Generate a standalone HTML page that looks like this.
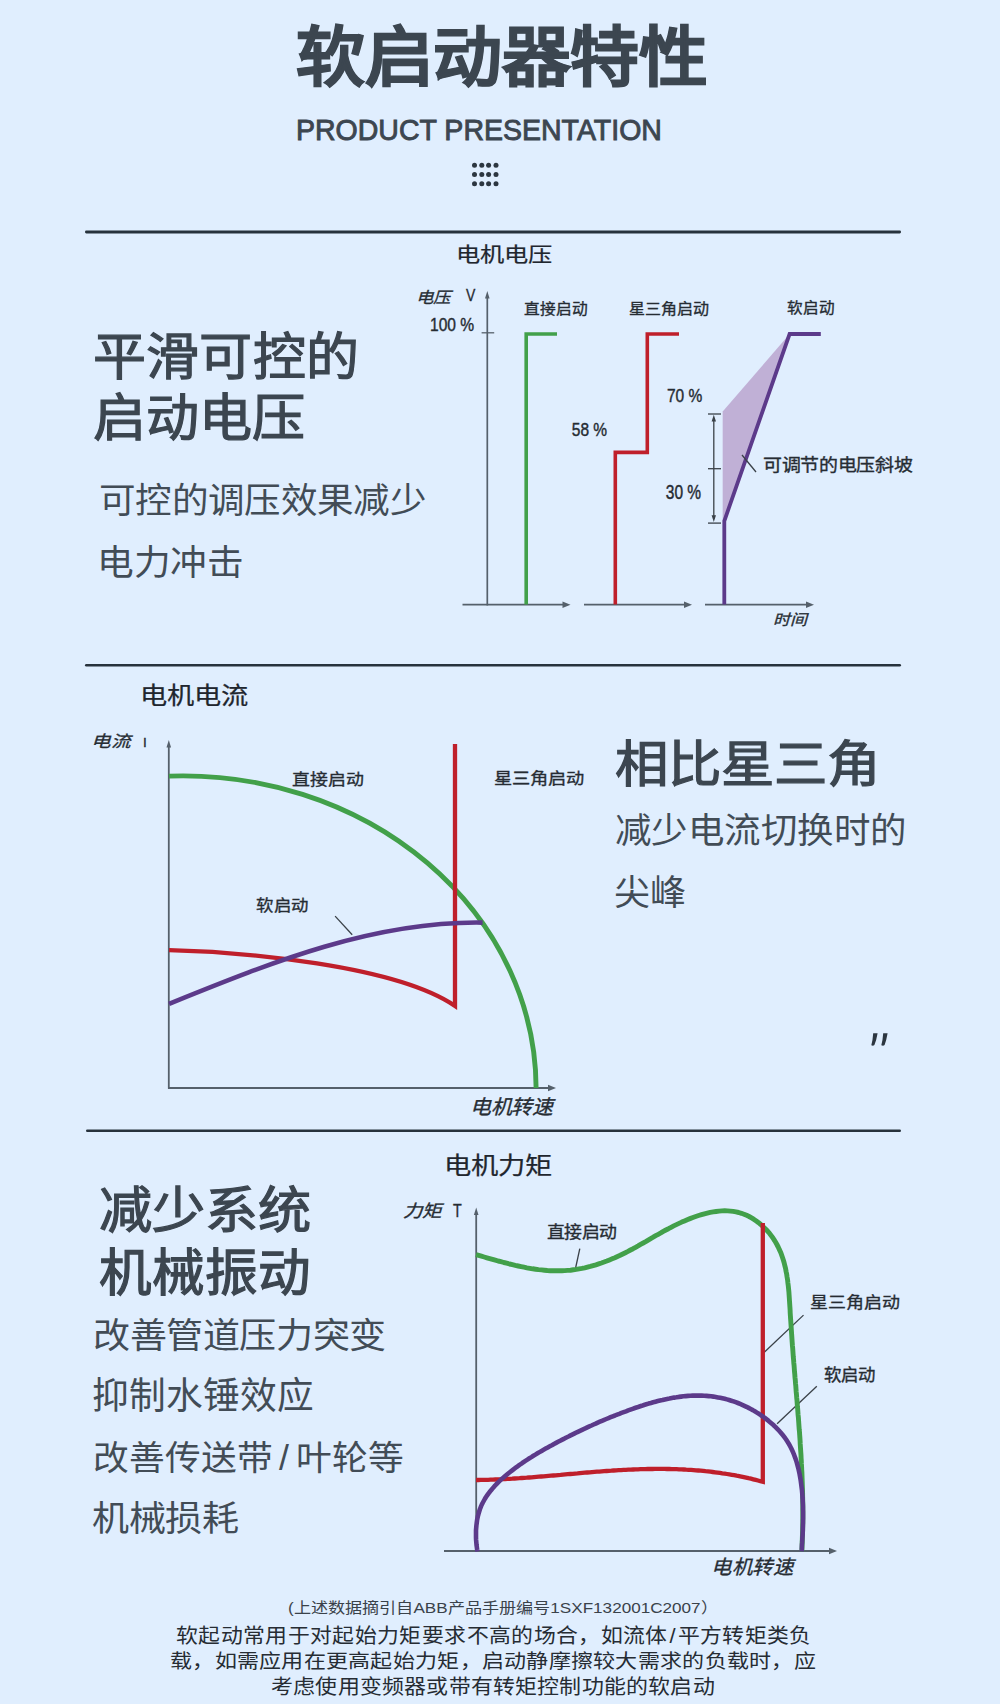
<!DOCTYPE html>
<html lang="zh-CN">
<head>
<meta charset="utf-8">
<title>软启动器特性</title>
<style>
html,body{margin:0;padding:0;}
body{width:1000px;height:1704px;overflow:hidden;position:relative;background:#e0eefe;font-family:"Liberation Sans",sans-serif;}
.t{position:absolute;white-space:nowrap;line-height:1;transform-origin:0 0;}
svg{position:absolute;left:0;top:0;}
</style>
</head>
<body>
<svg width="1000" height="1704" viewBox="0 0 1000 1704">
<g fill="#2c3640"><circle cx="474.5" cy="165.2" r="2.5"/><circle cx="481.8" cy="165.2" r="2.5"/><circle cx="488.6" cy="165.2" r="2.5"/><circle cx="496" cy="165.2" r="2.5"/><circle cx="474.5" cy="174.5" r="2.5"/><circle cx="481.8" cy="174.5" r="2.5"/><circle cx="488.6" cy="174.5" r="2.5"/><circle cx="496" cy="174.5" r="2.5"/><circle cx="474.5" cy="183.8" r="2.5"/><circle cx="481.8" cy="183.8" r="2.5"/><circle cx="488.6" cy="183.8" r="2.5"/><circle cx="496" cy="183.8" r="2.5"/></g>
<g fill="#27323c"><rect x="85" y="230.6" width="816" height="2.8" rx="1.3"/><rect x="85" y="664" width="816" height="2.6" rx="1.3"/><rect x="86" y="1129.4" width="815" height="2.6" rx="1.3"/></g>
<g stroke="#55606b" stroke-width="1.7" fill="none">
<line x1="487.3" y1="605.6" x2="487.3" y2="296"/>
<line x1="481.6" y1="332.8" x2="494.2" y2="332.8" stroke-width="1.3"/>
<line x1="462.5" y1="604.7" x2="565" y2="604.7"/>
<line x1="584" y1="604.7" x2="686" y2="604.7"/>
<line x1="705" y1="604.7" x2="808" y2="604.7"/>
</g>
<path d="M487.3,291 L485.0,298.5 L489.6,298.5 Z" fill="#55606b"/>
<path d="M570.5,604.7 L562.5,601.5 L562.5,607.9000000000001 Z" fill="#55606b"/>
<path d="M692,604.7 L684,601.5 L684,607.9000000000001 Z" fill="#55606b"/>
<path d="M814,604.7 L806,601.5 L806,607.9000000000001 Z" fill="#55606b"/>
<polygon points="722.7,411.6 789.6,334 724.4,521 722.7,521" fill="#c0b0d6"/>
<polyline points="526.2,604.5 526.2,334 557,334" fill="none" stroke="#42a04a" stroke-width="3.6" stroke-linejoin="miter"/>
<polyline points="615.3,604.5 615.3,452.4 647.3,452.4 647.3,334 679,334" fill="none" stroke="#bf1f2b" stroke-width="3.6"/>
<polyline points="724.3,604.5 724.3,521 789.6,334 820.8,334" fill="none" stroke="#5c3a8a" stroke-width="3.8"/>
<g stroke="#3a4148" stroke-width="1.3" fill="none">
<line x1="713.8" y1="418" x2="713.8" y2="519"/>
<line x1="708" y1="414" x2="721" y2="414"/>
<line x1="708" y1="468.7" x2="721" y2="468.7"/>
<line x1="708" y1="523.1" x2="721" y2="523.1"/>
<line x1="742" y1="455" x2="756" y2="472"/>
</g>
<path d="M713.8,414.8 L711.6,421.5 L716,421.5 Z M713.8,522 L711.6,515.3 L716,515.3 Z" fill="#3a4148"/>
<g stroke="#55606b" stroke-width="1.8" fill="none"><line x1="168.8" y1="1088.8" x2="168.8" y2="745"/><line x1="168" y1="1088" x2="549" y2="1088"/></g>
<path d="M168.8,740 L166.5,747.5 L171.10000000000002,747.5 Z" fill="#55606b"/>
<path d="M556,1088 L548,1084.8 L548,1091.2 Z" fill="#55606b"/>
<line x1="335.1" y1="916.1" x2="352.2" y2="934.7" stroke="#3a4148" stroke-width="1.3"/>
<path d="M169,776.1 A353.4,313 0 0 1 536.1,1088" fill="none" stroke="#42a04a" stroke-width="4.9"/>
<path d="M169,950.2 C241.8,951.8 395.5,965.4 455,1006 L455,744" fill="none" stroke="#bf1f2b" stroke-width="4.3" stroke-linejoin="miter"/>
<path d="M169,1003.8 C268.9,963.5 372.8,920.9 482.6,922.6" fill="none" stroke="#5c3a8a" stroke-width="4.6"/>
<g stroke="#55606b" stroke-width="1.8" fill="none"><line x1="476.2" y1="1551.5" x2="476.2" y2="1212"/><line x1="444" y1="1551" x2="830" y2="1551"/></g>
<path d="M476.2,1207.6 L473.9,1215.1 L478.5,1215.1 Z" fill="#55606b"/>
<path d="M837,1551 L829,1547.8 L829,1554.2 Z" fill="#55606b"/>
<g stroke="#3a4148" stroke-width="1.3" fill="none"><line x1="579.8" y1="1248.6" x2="575.6" y2="1268"/><line x1="803.5" y1="1315.1" x2="764" y2="1352.5"/><line x1="816.8" y1="1386.3" x2="777.1" y2="1423.7"/></g>
<path d="M476.0,1254.6 L478.7,1255.4 L481.4,1256.2 L484.2,1257.0 L486.9,1257.8 L489.7,1258.6 L492.5,1259.4 L495.3,1260.2 L498.1,1261.0 L500.9,1261.7 L503.8,1262.5 L506.6,1263.2 L509.5,1264.0 L512.4,1264.7 L515.3,1265.4 L518.2,1266.0 L521.1,1266.6 L524.0,1267.2 L526.9,1267.8 L529.8,1268.3 L532.7,1268.8 L535.6,1269.2 L538.5,1269.6 L541.5,1269.9 L544.4,1270.2 L547.3,1270.5 L550.2,1270.7 L553.1,1270.8 L556.0,1270.8 L559.0,1270.8 L561.8,1270.8 L564.7,1270.6 L567.6,1270.4 L570.5,1270.2 L573.4,1269.8 L576.2,1269.4 L579.1,1268.9 L581.9,1268.4 L584.7,1267.8 L587.5,1267.1 L590.3,1266.4 L593.1,1265.6 L595.9,1264.8 L598.7,1263.9 L601.4,1263.0 L604.1,1262.0 L606.8,1261.0 L609.5,1259.9 L612.2,1258.8 L614.9,1257.7 L617.5,1256.5 L620.2,1255.3 L622.8,1254.0 L625.4,1252.7 L628.0,1251.4 L630.5,1250.0 L633.1,1248.7 L635.6,1247.3 L638.1,1245.9 L640.6,1244.4 L643.2,1243.0 L645.7,1241.6 L648.2,1240.1 L650.7,1238.6 L653.2,1237.2 L655.7,1235.7 L658.3,1234.3 L660.8,1232.9 L663.3,1231.4 L665.9,1230.0 L668.5,1228.7 L671.1,1227.3 L673.7,1225.9 L676.4,1224.6 L679.0,1223.4 L681.7,1222.1 L684.5,1220.9 L687.2,1219.7 L690.0,1218.6 L692.9,1217.5 L695.7,1216.5 L698.6,1215.5 L701.5,1214.6 L704.4,1213.8 L707.3,1213.1 L710.2,1212.4 L713.2,1211.9 L716.1,1211.5 L719.0,1211.1 L721.9,1210.9 L724.7,1210.8 L727.6,1210.9 L730.4,1211.1 L733.2,1211.4 L736.0,1211.9 L738.7,1212.5 L741.4,1213.3 L744.0,1214.2 L746.6,1215.3 L749.1,1216.5 L751.6,1217.9 L754.0,1219.4 L756.3,1221.0 L758.6,1222.7 L760.8,1224.5 L762.9,1226.4 L765.0,1228.4 L767.0,1230.5 L768.9,1232.6 L770.7,1234.9 L772.4,1237.2 L774.0,1239.6 L775.5,1242.0 L776.9,1244.5 L778.2,1247.0 L779.4,1249.6 L780.6,1252.2 L781.6,1254.9 L782.5,1257.5 L783.4,1260.3 L784.2,1263.0 L784.9,1265.8 L785.6,1268.6 L786.1,1271.5 L786.7,1274.3 L787.1,1277.2 L787.6,1280.1 L787.9,1283.0 L788.3,1286.0 L788.6,1288.9 L788.9,1291.9 L789.1,1294.9 L789.3,1297.9 L789.5,1300.8 L789.7,1303.8 L789.9,1306.8 L790.1,1309.8 L790.2,1312.8 L790.4,1315.8 L790.6,1318.8 L790.8,1321.7 L791.0,1324.7 L791.2,1327.7 L791.4,1330.6 L791.6,1333.6 L791.8,1336.5 L792.0,1339.5 L792.2,1342.4 L792.4,1345.4 L792.7,1348.3 L792.9,1351.2 L793.1,1354.2 L793.3,1357.1 L793.6,1360.0 L793.8,1362.9 L794.1,1365.8 L794.3,1368.7 L794.5,1371.6 L794.8,1374.6 L795.0,1377.5 L795.3,1380.3 L795.5,1383.2 L795.8,1386.1 L796.0,1389.0 L796.2,1391.9 L796.5,1394.8 L796.7,1397.7 L797.0,1400.6 L797.2,1403.5 L797.4,1406.3 L797.7,1409.2 L797.9,1412.1 L798.1,1415.0 L798.4,1417.8 L798.6,1420.7 L798.8,1423.6 L799.0,1426.5 L799.2,1429.3 L799.5,1432.2 L799.7,1435.1 L799.9,1438.0 L800.1,1440.8 L800.2,1443.7 L800.4,1446.6 L800.6,1449.5 L800.8,1452.3 L801.0,1455.2 L801.1,1458.1 L801.3,1461.0 L801.4,1463.9 L801.6,1466.7 L801.7,1469.6 L801.9,1472.5 L802.0,1475.4 L802.1,1478.3 L802.2,1481.2 L802.3,1484.1 L802.4,1487.0 L802.5,1489.9 L802.6,1492.8 L802.6,1495.7 L802.7,1498.6 L802.7,1501.5 L802.8,1504.4 L802.8,1507.3 L802.8,1510.2 L802.8,1513.1 L802.8,1516.1 L802.8,1519.0 L802.8,1521.9 L802.7,1524.9 L802.7,1527.8 L802.6,1530.8 L802.5,1533.7 L802.4,1536.7 L802.3,1539.6 L802.2,1542.6 L802.1,1545.5 L802.0,1548.5 L801.8,1551.5" fill="none" stroke="#42a04a" stroke-width="4.9" stroke-linejoin="round"/>
<path d="M476.0,1480.0 L478.4,1480.0 L480.8,1479.9 L483.2,1479.9 L485.6,1479.8 L488.1,1479.8 L490.5,1479.7 L492.9,1479.6 L495.3,1479.5 L497.7,1479.4 L500.1,1479.3 L502.5,1479.2 L505.0,1479.1 L507.4,1478.9 L509.8,1478.8 L512.2,1478.7 L514.6,1478.5 L517.0,1478.3 L519.5,1478.2 L521.9,1478.0 L524.3,1477.8 L526.7,1477.7 L529.1,1477.5 L531.6,1477.3 L534.0,1477.1 L536.4,1476.9 L538.8,1476.7 L541.2,1476.5 L543.6,1476.3 L546.1,1476.1 L548.5,1475.9 L550.9,1475.7 L553.3,1475.5 L555.7,1475.3 L558.2,1475.1 L560.6,1474.9 L563.0,1474.6 L565.4,1474.4 L567.8,1474.2 L570.3,1474.0 L572.7,1473.8 L575.1,1473.6 L577.5,1473.4 L579.9,1473.1 L582.4,1472.9 L584.8,1472.7 L587.2,1472.5 L589.6,1472.3 L592.0,1472.1 L594.5,1471.9 L596.9,1471.7 L599.3,1471.6 L601.7,1471.4 L604.1,1471.2 L606.6,1471.0 L609.0,1470.8 L611.4,1470.7 L613.8,1470.5 L616.2,1470.4 L618.6,1470.2 L621.1,1470.1 L623.5,1469.9 L625.9,1469.8 L628.3,1469.7 L630.7,1469.6 L633.2,1469.5 L635.6,1469.4 L638.0,1469.3 L640.4,1469.2 L642.8,1469.1 L645.2,1469.1 L647.7,1469.0 L650.1,1469.0 L652.5,1469.0 L654.9,1468.9 L657.3,1468.9 L659.7,1468.9 L662.1,1468.9 L664.5,1468.9 L667.0,1469.0 L669.4,1469.0 L671.8,1469.1 L674.2,1469.1 L676.6,1469.2 L679.0,1469.3 L681.4,1469.4 L683.8,1469.5 L686.2,1469.7 L688.6,1469.8 L691.1,1469.9 L693.5,1470.1 L695.9,1470.3 L698.3,1470.5 L700.7,1470.7 L703.1,1470.9 L705.5,1471.2 L707.9,1471.4 L710.3,1471.7 L712.7,1472.0 L715.1,1472.3 L717.5,1472.6 L719.9,1472.9 L722.3,1473.3 L724.7,1473.6 L727.0,1474.0 L729.4,1474.4 L731.8,1474.8 L734.2,1475.2 L736.6,1475.7 L739.0,1476.1 L741.4,1476.6 L743.8,1477.1 L746.1,1477.6 L748.5,1478.2 L750.9,1478.7 L753.3,1479.3 L755.7,1479.9 L758.0,1480.5 L760.4,1481.2 L762.8,1481.8 L762.8,1223" fill="none" stroke="#bf1f2b" stroke-width="4.3" stroke-linejoin="miter"/>
<path d="M477.5,1551.5 L477.1,1549.3 L476.8,1547.0 L476.5,1544.6 L476.3,1542.3 L476.1,1539.9 L476.0,1537.5 L476.0,1535.1 L476.0,1532.7 L476.0,1530.3 L476.2,1527.9 L476.4,1525.5 L476.7,1523.1 L477.0,1520.7 L477.4,1518.4 L477.9,1516.1 L478.5,1513.8 L479.2,1511.5 L479.9,1509.3 L480.7,1507.2 L481.6,1505.0 L482.6,1503.0 L483.7,1501.0 L484.8,1499.0 L486.0,1497.0 L487.3,1495.1 L488.6,1493.3 L490.0,1491.5 L491.5,1489.7 L493.0,1487.9 L494.5,1486.2 L496.1,1484.5 L497.7,1482.9 L499.4,1481.2 L501.1,1479.6 L502.9,1478.1 L504.6,1476.5 L506.4,1475.0 L508.2,1473.5 L510.1,1472.0 L511.9,1470.6 L513.8,1469.1 L515.7,1467.7 L517.6,1466.3 L519.5,1464.9 L521.5,1463.6 L523.4,1462.2 L525.4,1460.9 L527.4,1459.6 L529.4,1458.3 L531.4,1457.1 L533.4,1455.8 L535.4,1454.6 L537.5,1453.3 L539.5,1452.1 L541.6,1450.9 L543.6,1449.8 L545.7,1448.6 L547.8,1447.4 L549.8,1446.3 L551.9,1445.2 L554.0,1444.0 L556.1,1442.9 L558.1,1441.8 L560.2,1440.7 L562.3,1439.6 L564.4,1438.6 L566.4,1437.5 L568.5,1436.5 L570.6,1435.4 L572.7,1434.4 L574.7,1433.4 L576.8,1432.3 L578.9,1431.3 L581.0,1430.3 L583.1,1429.3 L585.2,1428.4 L587.3,1427.4 L589.4,1426.4 L591.5,1425.5 L593.6,1424.5 L595.7,1423.6 L597.8,1422.6 L599.9,1421.7 L602.0,1420.8 L604.2,1419.9 L606.3,1419.0 L608.5,1418.1 L610.6,1417.2 L612.8,1416.3 L615.0,1415.5 L617.1,1414.6 L619.3,1413.8 L621.5,1412.9 L623.7,1412.1 L626.0,1411.3 L628.2,1410.4 L630.4,1409.6 L632.7,1408.8 L634.9,1408.0 L637.2,1407.3 L639.5,1406.5 L641.7,1405.8 L644.0,1405.0 L646.3,1404.3 L648.6,1403.6 L650.9,1403.0 L653.2,1402.3 L655.5,1401.7 L657.8,1401.1 L660.1,1400.5 L662.5,1400.0 L664.8,1399.4 L667.1,1398.9 L669.4,1398.5 L671.8,1398.0 L674.1,1397.6 L676.4,1397.3 L678.8,1396.9 L681.1,1396.6 L683.4,1396.3 L685.7,1396.1 L688.1,1395.9 L690.4,1395.8 L692.7,1395.6 L695.0,1395.6 L697.3,1395.5 L699.6,1395.6 L701.9,1395.6 L704.2,1395.7 L706.5,1395.9 L708.8,1396.1 L711.1,1396.3 L713.4,1396.6 L715.7,1397.0 L717.9,1397.4 L720.2,1397.8 L722.4,1398.3 L724.7,1398.8 L726.9,1399.4 L729.1,1400.0 L731.3,1400.7 L733.5,1401.4 L735.7,1402.2 L737.9,1403.0 L740.1,1403.9 L742.2,1404.8 L744.4,1405.8 L746.5,1406.8 L748.6,1407.9 L750.7,1409.0 L752.8,1410.1 L754.8,1411.3 L756.9,1412.6 L758.9,1413.8 L760.9,1415.2 L762.9,1416.5 L764.8,1417.9 L766.7,1419.4 L768.6,1420.9 L770.4,1422.4 L772.2,1423.9 L773.9,1425.5 L775.6,1427.1 L777.3,1428.8 L778.9,1430.5 L780.4,1432.2 L781.9,1434.0 L783.4,1435.8 L784.8,1437.7 L786.1,1439.5 L787.4,1441.5 L788.6,1443.4 L789.7,1445.4 L790.8,1447.5 L791.8,1449.6 L792.8,1451.7 L793.7,1453.8 L794.5,1456.0 L795.3,1458.1 L796.1,1460.4 L796.8,1462.6 L797.4,1464.9 L798.0,1467.1 L798.6,1469.4 L799.1,1471.7 L799.6,1474.1 L800.0,1476.4 L800.4,1478.7 L800.8,1481.1 L801.1,1483.4 L801.4,1485.8 L801.7,1488.1 L802.0,1490.5 L802.2,1492.8 L802.4,1495.2 L802.5,1497.5 L802.7,1499.9 L802.8,1502.2 L802.9,1504.6 L803.0,1507.0 L803.0,1509.3 L803.1,1511.7 L803.1,1514.0 L803.1,1516.4 L803.1,1518.7 L803.0,1521.1 L803.0,1523.4 L802.9,1525.8 L802.8,1528.1 L802.8,1530.5 L802.7,1532.8 L802.6,1535.1 L802.4,1537.5 L802.3,1539.8 L802.2,1542.2 L802.0,1544.5 L801.9,1546.8 L801.8,1549.2 L801.6,1551.5" fill="none" stroke="#5c3a8a" stroke-width="4.6" stroke-linejoin="round"/>
<path d="M873.2,1033.3 L877.6,1033.3 Q876.5,1040 874.4,1045 Q873,1046.2 871.3,1045.2 Q872.8,1040 873.2,1033.3 Z M883.2,1033.3 L887.6,1033.3 Q886.5,1040 884.6,1045 Q883.2,1046.2 881.3,1045.2 Q882.8,1040 883.2,1033.3 Z" fill="#2c3640"/>
</svg>
<div class="t" id="title" style="left:295.60px;top:24.93px;font-size:68.25px;font-weight:700;color:#3c4650;-webkit-text-stroke:1.2px #3c4650;transform:scale(1.0089,0.9529);">软启动器特性</div>
<div class="t" id="pp" style="left:296.00px;top:115.66px;font-size:28.5px;font-weight:400;color:#3c4650;-webkit-text-stroke:0.9px #3c4650;transform:scale(1.0003,1.0190);">PRODUCT PRESENTATION</div>
<div class="t" id="c1t" style="left:455.97px;top:245.44px;font-size:24.25px;font-weight:400;color:#1f262e;-webkit-text-stroke:0.25px #1f262e;transform:scale(1.0000,0.8542);">电机电压</div>
<div class="t" id="h1a" style="left:92.61px;top:331.97px;font-size:53.75px;font-weight:400;color:#3c4650;-webkit-text-stroke:1.3px #3c4650;transform:scale(0.9860,0.9608);">平滑可控的</div>
<div class="t" id="h1b" style="left:92.99px;top:392.96px;font-size:53.0px;font-weight:400;color:#3c4650;-webkit-text-stroke:1.3px #3c4650;transform:scale(1.0019,0.9569);">启动电压</div>
<div class="t" id="s1a" style="left:98.80px;top:483.52px;font-size:36.25px;font-weight:400;color:#424c56;transform:scale(1.0090,0.9676);">可控的调压效果减少</div>
<div class="t" id="s1b" style="left:97.40px;top:545.22px;font-size:37.0px;font-weight:400;color:#424c56;transform:scale(0.9908,0.9600);">电力冲击</div>
<div class="t" id="c1y" style="left:416.20px;top:289.64px;font-size:17.5px;font-weight:400;color:#262c33;font-style:italic;-webkit-text-stroke:0.35px #262c33;transform:scale(1.0000,0.8941);">电压</div>
<div class="t" id="c1v" style="left:465.78px;top:287.94px;font-size:17.5px;font-weight:400;color:#262c33;-webkit-text-stroke:0.35px #262c33;transform:scale(0.8000,0.9462);">V</div>
<div class="t" id="c1p100" style="left:429.90px;top:315.71px;font-size:15.5px;font-weight:400;color:#262c33;-webkit-text-stroke:0.35px #262c33;transform:scale(1.0047,1.1900);">100 %</div>
<div class="t" id="c1l1" style="left:524.40px;top:302.15px;font-size:15.75px;font-weight:400;color:#262c33;-webkit-text-stroke:0.35px #262c33;transform:scale(0.9968,0.9375);">直接启动</div>
<div class="t" id="c1l2" style="left:629.00px;top:302.15px;font-size:16.0px;font-weight:400;color:#262c33;-webkit-text-stroke:0.35px #262c33;transform:scale(1.0000,0.9375);">星三角启动</div>
<div class="t" id="c1l3" style="left:787.28px;top:301.22px;font-size:15.75px;font-weight:400;color:#262c33;-webkit-text-stroke:0.35px #262c33;transform:scale(0.9894,0.9375);">软启动</div>
<div class="t" id="c1p70" style="left:667.00px;top:385.71px;font-size:15.5px;font-weight:400;color:#262c33;-webkit-text-stroke:0.35px #262c33;transform:scale(1.0000,1.2000);">70 %</div>
<div class="t" id="c1p58" style="left:571.81px;top:420.26px;font-size:15.5px;font-weight:400;color:#262c33;-webkit-text-stroke:0.35px #262c33;transform:scale(1.0000,1.2000);">58 %</div>
<div class="t" id="c1p30" style="left:665.81px;top:481.63px;font-size:15.5px;font-weight:400;color:#262c33;-webkit-text-stroke:0.35px #262c33;transform:scale(1.0000,1.2800);">30 %</div>
<div class="t" id="c1ramp" style="left:763.16px;top:456.96px;font-size:18.25px;font-weight:400;color:#262c33;-webkit-text-stroke:0.35px #262c33;transform:scale(1.0385,0.9333);">可调节的电压斜坡</div>
<div class="t" id="c1x" style="left:773.00px;top:612.89px;font-size:17.0px;font-weight:400;color:#262c33;font-style:italic;-webkit-text-stroke:0.35px #262c33;transform:scale(1.0000,0.8824);">时间</div>
<div class="t" id="c2t" style="left:139.90px;top:683.71px;font-size:27.25px;font-weight:400;color:#1f262e;-webkit-text-stroke:0.25px #1f262e;transform:scale(1.0000,0.8815);">电机电流</div>
<div class="t" id="c2y" style="left:90.86px;top:734.19px;font-size:19.5px;font-weight:400;color:#262c33;font-style:italic;-webkit-text-stroke:0.35px #262c33;transform:scale(1.0051,0.8263);">电流</div>
<div class="t" id="c2i" style="left:143.36px;top:735.03px;font-size:14.0px;font-weight:400;color:#262c33;-webkit-text-stroke:0.35px #262c33;transform:scale(0.9667,0.9600);">I</div>
<div class="t" id="c2l1" style="left:292.40px;top:771.06px;font-size:18.0px;font-weight:400;color:#262c33;-webkit-text-stroke:0.35px #262c33;transform:scale(0.9958,0.9000);">直接启动</div>
<div class="t" id="c2l2" style="left:493.70px;top:771.17px;font-size:18.25px;font-weight:400;color:#262c33;-webkit-text-stroke:0.35px #262c33;transform:scale(1.0000,0.8944);">星三角启动</div>
<div class="t" id="c2l3" style="left:256.12px;top:897.85px;font-size:17.75px;font-weight:400;color:#262c33;-webkit-text-stroke:0.35px #262c33;transform:scale(0.9811,0.9222);">软启动</div>
<div class="t" id="c2x" style="left:469.99px;top:1098.34px;font-size:21.25px;font-weight:400;color:#262c33;font-style:italic;-webkit-text-stroke:0.35px #262c33;transform:scale(0.9845,0.9450);">电机转速</div>
<div class="t" id="h2" style="left:614.60px;top:739.58px;font-size:53.5px;font-weight:400;color:#3c4650;-webkit-text-stroke:1.3px #3c4650;transform:scale(0.9996,0.9412);">相比星三角</div>
<div class="t" id="s2a" style="left:614.81px;top:812.69px;font-size:37.0px;font-weight:400;color:#424c56;transform:scale(0.9853,0.9600);">减少电流切换时的</div>
<div class="t" id="s2b" style="left:613.58px;top:874.91px;font-size:36.0px;font-weight:400;color:#424c56;transform:scale(1.0029,0.9853);">尖峰</div>
<div class="t" id="c3t" style="left:443.77px;top:1154.49px;font-size:27.25px;font-weight:400;color:#1f262e;-webkit-text-stroke:0.25px #1f262e;transform:scale(1.0029,0.8667);">电机力矩</div>
<div class="t" id="c3y" style="left:402.88px;top:1203.00px;font-size:19.25px;font-weight:400;color:#262c33;font-style:italic;-webkit-text-stroke:0.35px #262c33;transform:scale(1.0175,0.8944);">力矩</div>
<div class="t" id="c3i" style="left:452.50px;top:1201.68px;font-size:15.5px;font-weight:400;color:#262c33;-webkit-text-stroke:0.35px #262c33;transform:scale(0.9200,1.1500);">T</div>
<div class="t" id="c3l1" style="left:546.81px;top:1225.31px;font-size:17.5px;font-weight:400;color:#262c33;-webkit-text-stroke:0.35px #262c33;transform:scale(1.0221,0.9529);">直接启动</div>
<div class="t" id="c3l2" style="left:810.00px;top:1295.34px;font-size:18.0px;font-weight:400;color:#262c33;-webkit-text-stroke:0.35px #262c33;transform:scale(1.0000,0.8889);">星三角启动</div>
<div class="t" id="c3l3" style="left:823.91px;top:1367.27px;font-size:17.25px;font-weight:400;color:#262c33;-webkit-text-stroke:0.35px #262c33;transform:scale(1.0098,0.9882);">软启动</div>
<div class="t" id="c3x" style="left:711.10px;top:1558.34px;font-size:20.75px;font-weight:400;color:#262c33;font-style:italic;-webkit-text-stroke:0.35px #262c33;transform:scale(0.9821,0.9450);">电机转速</div>
<div class="t" id="h3a" style="left:98.80px;top:1185.84px;font-size:53.25px;font-weight:400;color:#3c4650;-webkit-text-stroke:1.3px #3c4650;transform:scale(1.0000,0.9412);">减少系统</div>
<div class="t" id="h3b" style="left:99.30px;top:1247.69px;font-size:52.5px;font-weight:400;color:#3c4650;-webkit-text-stroke:1.3px #3c4650;transform:scale(1.0014,0.9700);">机械振动</div>
<div class="t" id="s3a" style="left:93.26px;top:1319.40px;font-size:36.5px;font-weight:400;color:#424c56;transform:scale(1.0169,0.9706);">改善管道压力突变</div>
<div class="t" id="s3b" style="left:92.41px;top:1378.35px;font-size:36.75px;font-weight:400;color:#424c56;transform:scale(0.9991,1.0176);">抑制水锤效应</div>
<div class="t" id="s3c" style="left:92.50px;top:1442.36px;font-size:35.75px;font-weight:400;color:#424c56;transform:scale(0.9997,0.9697);">改善传送带<span style="margin:0 7px 0 6px">/</span>叶轮等</div>
<div class="t" id="s3d" style="left:92.07px;top:1502.24px;font-size:36.5px;font-weight:400;color:#424c56;transform:scale(1.0155,0.9706);">机械损耗</div>
<div class="t" id="f0" style="left:288.38px;top:1599.56px;font-size:17.0px;font-weight:400;color:#3a424a;transform:scale(1.0063,0.9000);">(上述数据摘引自ABB产品手册编号1SXF132001C2007）</div>
<div class="t" id="f1" style="left:175.53px;top:1626.90px;font-size:22.5px;font-weight:400;color:#262c33;transform:scale(0.9717,0.9000);">软起动常用于对起始力矩要求不高的场合，如流体<span style="margin:0 2px">/</span>平方转矩类负</div>
<div class="t" id="f2" style="left:170.10px;top:1652.44px;font-size:21.75px;font-weight:400;color:#262c33;transform:scale(1.0124,0.9000);">载，如需应用在更高起始力矩，启动静摩擦较大需求的负载时，应</div>
<div class="t" id="f3" style="left:270.70px;top:1677.27px;font-size:21.75px;font-weight:400;color:#262c33;transform:scale(1.0087,0.9182);">考虑使用变频器或带有转矩控制功能的软启动</div>
</body>
</html>
